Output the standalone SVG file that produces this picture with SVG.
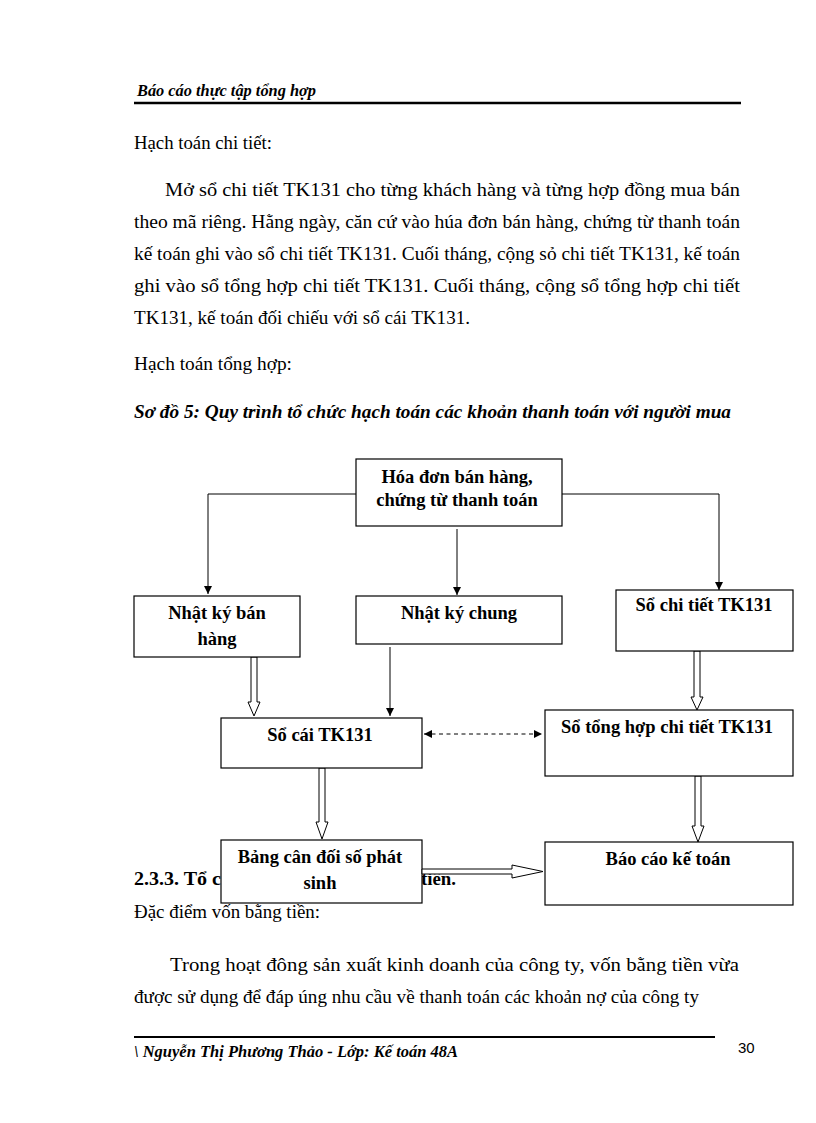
<svg xmlns="http://www.w3.org/2000/svg" width="816" height="1123" viewBox="0 0 816 1123">
<defs>
<style>
.t{font-family:"Liberation Serif","Times New Roman",serif;font-size:19px;fill:#000}
.b{font-weight:bold}
.bi{font-weight:bold;font-style:italic}
.box{fill:#fff;stroke:#000;stroke-width:1.2}
.lbl{font-family:"Liberation Serif","Times New Roman",serif;font-size:18.5px;font-weight:bold;text-anchor:middle;fill:#000}
.thin{fill:none;stroke:#000;stroke-width:1}
.hollow{fill:#fff;stroke:#000;stroke-width:1}
</style>
<marker id="ah" viewBox="0 0 8 8" refX="8" refY="4" markerWidth="8" markerHeight="8" markerUnits="userSpaceOnUse" orient="auto-start-reverse">
<path d="M0,0 L8,4 L0,8 Z" fill="#000"/>
</marker>
</defs>
<rect width="816" height="1123" fill="#fff"/>

<!-- header -->
<text class="t bi" x="137" y="96" style="font-size:16px" textLength="179" lengthAdjust="spacingAndGlyphs">Báo cáo thực tập tổng hợp</text>
<line x1="134" y1="103" x2="741" y2="103" stroke="#000" stroke-width="2.5"/>

<!-- body text -->
<text class="t" x="134" y="149" textLength="138" lengthAdjust="spacingAndGlyphs">Hạch toán chi tiết:</text>
<text class="t" x="165" y="196" textLength="575" lengthAdjust="spacingAndGlyphs">Mở sổ chi tiết TK131  cho từng khách hàng và từng hợp đồng mua bán</text>
<text class="t" x="134" y="228" textLength="606" lengthAdjust="spacingAndGlyphs">theo mã riêng. Hằng ngày, căn cứ vào húa đơn bán hàng, chứng từ thanh toán</text>
<text class="t" x="134" y="260" textLength="606" lengthAdjust="spacingAndGlyphs">kế toán ghi vào sổ chi tiết TK131. Cuối tháng, cộng sỏ chi tiết TK131, kế toán</text>
<text class="t" x="134" y="292" textLength="606" lengthAdjust="spacingAndGlyphs">ghi vào sổ tổng hợp chi tiết TK131. Cuối tháng, cộng sổ tổng hợp chi tiết</text>
<text class="t" x="134" y="324" textLength="336" lengthAdjust="spacingAndGlyphs">TK131, kế toán đối chiếu với sổ cái TK131.</text>
<text class="t" x="134" y="370" textLength="158" lengthAdjust="spacingAndGlyphs">Hạch toán tổng hợp:</text>
<text class="t bi" x="134" y="418" style="font-size:18px" textLength="597" lengthAdjust="spacingAndGlyphs">Sơ đồ 5: Quy trình tổ chức hạch toán các khoản thanh toán với người mua</text>

<text class="t b" x="134" y="885" textLength="87" lengthAdjust="spacingAndGlyphs">2.3.3. Tổ c</text>
<text class="t b" x="421" y="885" textLength="35" lengthAdjust="spacingAndGlyphs">tiền.</text>

<!-- connectors -->
<g id="connectors">
<path class="thin" d="M356,494 H208 V594" marker-end="url(#ah)"/>
<path class="thin" d="M562,494 H719 V590" marker-end="url(#ah)"/>
<path class="thin" d="M457,529 V595" marker-end="url(#ah)"/>
<path class="thin" d="M390,647 V716" marker-end="url(#ah)"/>
<path class="thin" d="M424,734 H542" stroke-dasharray="4,3.5" marker-start="url(#ah)" marker-end="url(#ah)"/>
<polygon class="hollow" points="251,657 251,702 248,702 254,716 260,702 257,702 257,657"/>
<polygon class="hollow" points="694,651 694,697 691,697 697,710 703,697 700,697 700,651"/>
<polygon class="hollow" points="319,768 319,822 316,822 322,839 328,822 325,822 325,768"/>
<polygon class="hollow" points="695,776 695,826 692,826 698,842 704,826 701,826 701,776"/>
</g>

<!-- nodes -->
<g id="n-hoadon">
<rect class="box" x="356" y="459" width="206" height="67"/>
<text class="lbl" x="457" y="483">Hóa đơn bán hàng,</text>
<text class="lbl" x="457" y="506">chứng từ thanh toán</text>
</g>
<g id="n-nkbh">
<rect class="box" x="134" y="596" width="166" height="61"/>
<text class="lbl" x="217" y="619">Nhật ký bán</text>
<text class="lbl" x="217" y="645">hàng</text>
</g>
<g id="n-nkc">
<rect class="box" x="356" y="596" width="206" height="48"/>
<text class="lbl" x="459" y="619">Nhật ký chung</text>
</g>
<g id="n-sct">
<rect class="box" x="616" y="590" width="177" height="61"/>
<text class="lbl" x="704" y="611">Sổ chi tiết TK131</text>
</g>
<g id="n-socai">
<rect class="box" x="221" y="718" width="201" height="50"/>
<text class="lbl" x="320" y="741">Sổ cái TK131</text>
</g>
<g id="n-sth">
<rect class="box" x="545" y="710" width="248" height="66"/>
<text class="lbl" x="667" y="733">Sổ tổng hợp chi tiết TK131</text>
</g>
<g id="n-bcd">
<rect class="box" x="221" y="840" width="201" height="63"/>
<text class="lbl" x="320" y="863">Bảng cân đối số phát</text>
<text class="lbl" x="320" y="889">sinh</text>
</g>
<g id="n-bckt">
<rect class="box" x="545" y="842" width="248" height="63"/>
<text class="lbl" x="668" y="865">Báo cáo kế toán</text>
</g>
<g id="hollow-h">
<polygon class="hollow" points="422,869 512,869 512,865 543,871.5 512,878 512,874 422,874"/>
</g>

<!-- lower body text -->
<text class="t" x="134" y="918" textLength="186" lengthAdjust="spacingAndGlyphs">Đặc điểm vốn bằng tiền:</text>
<text class="t" x="170" y="971" textLength="569" lengthAdjust="spacingAndGlyphs">Trong hoạt đông sản xuất kinh  doanh của công ty, vốn bằng tiền vừa</text>
<text class="t" x="134" y="1003" textLength="565" lengthAdjust="spacingAndGlyphs">được sử dụng để đáp úng nhu cầu về thanh toán các khoản nợ của công ty</text>

<!-- footer -->
<line x1="134" y1="1037" x2="715" y2="1037" stroke="#000" stroke-width="2"/>
<text class="t bi" x="134" y="1057" style="font-size:16.5px" textLength="324" lengthAdjust="spacingAndGlyphs">\ Nguyễn Thị Phương Thảo - Lớp: Kế toán 48A</text>
<text x="738" y="1053" style="font-family:'Liberation Sans',Arial,sans-serif;font-size:15px;fill:#000">30</text>
</svg>
